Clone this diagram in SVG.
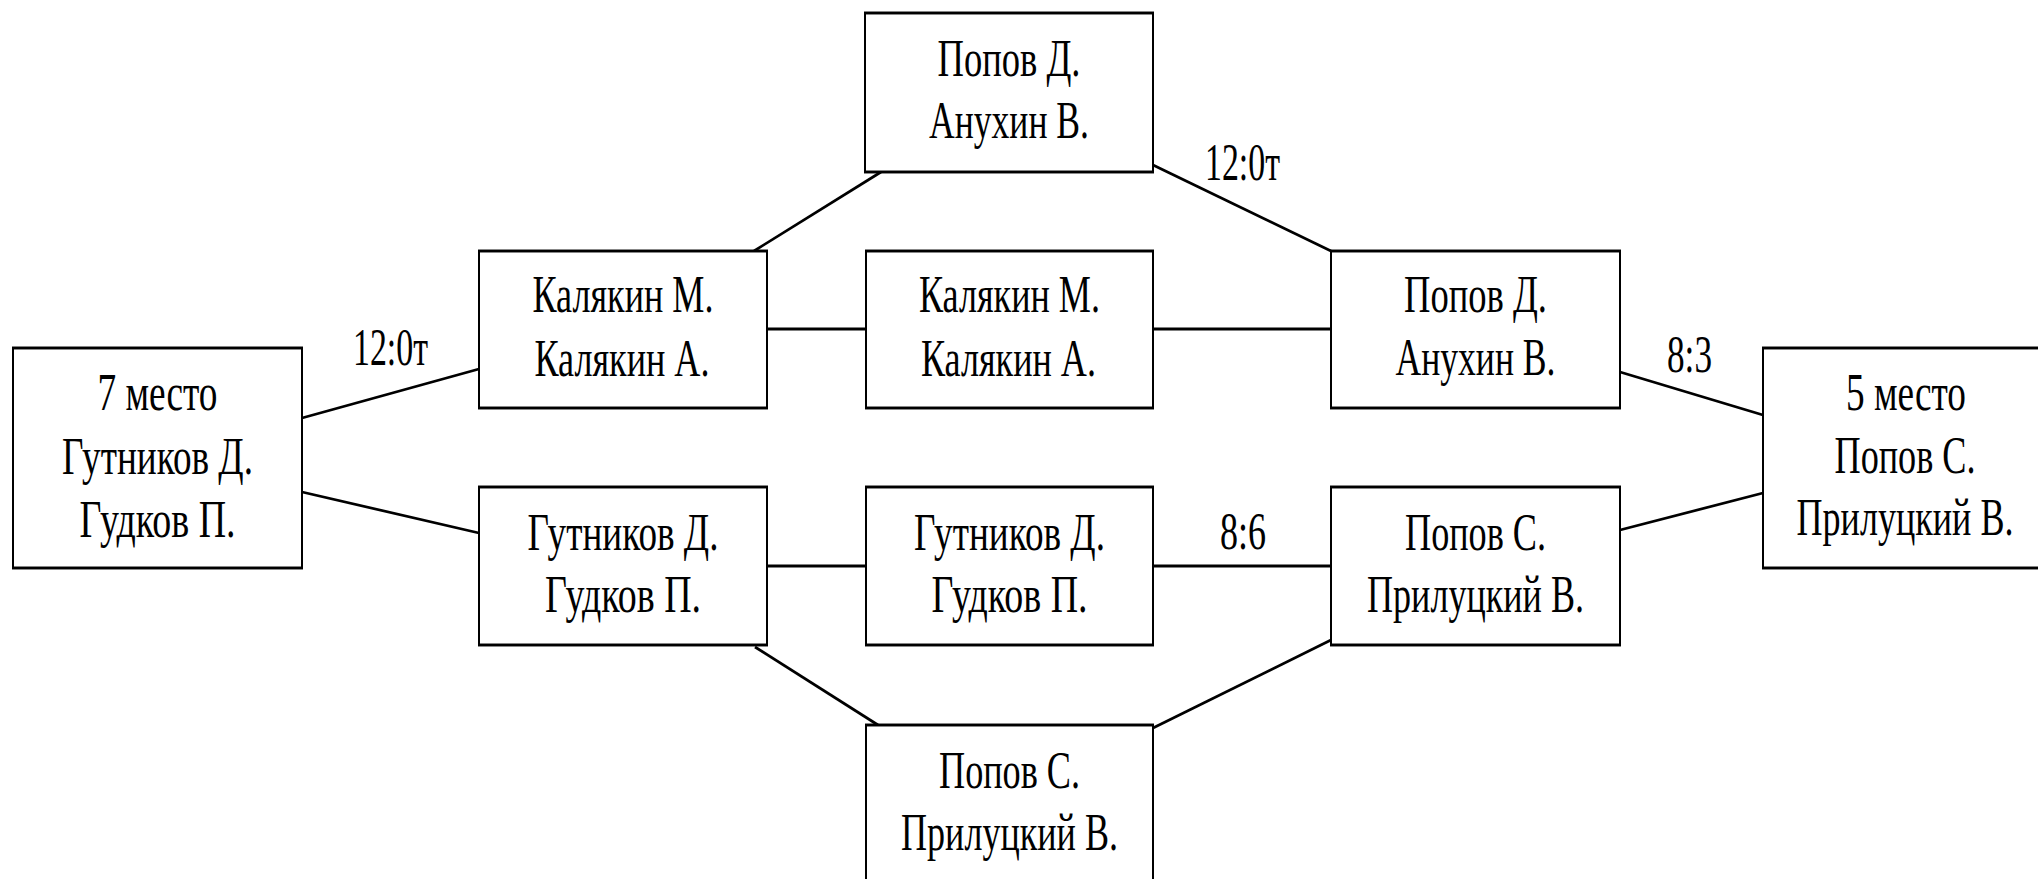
<svg xmlns="http://www.w3.org/2000/svg" width="2038" height="879" viewBox="0 0 2038 879">
<style>
rect{fill:#fff;stroke:#000;stroke-width:2}
line{stroke:#000;stroke-width:2.7}
line.h{stroke-width:3}
text{font-family:"Liberation Serif","Times New Roman",serif;font-size:36px;fill:#000;text-anchor:middle}
</style>
<rect x="0" y="0" width="2038" height="879" style="stroke:none"/>
<g id="connectors">
<line x1="302" y1="418" x2="479" y2="369"/>
<line x1="302" y1="492" x2="479" y2="533"/>
<line x1="754" y1="251" x2="881" y2="172"/>
<line class="h" x1="767" y1="329" x2="866" y2="329"/>
<line x1="1153" y1="165" x2="1331" y2="251"/>
<line class="h" x1="1153" y1="329" x2="1331" y2="329"/>
<line class="h" x1="767" y1="566" x2="866" y2="566"/>
<line x1="755" y1="647" x2="878" y2="725"/>
<line class="h" x1="1153" y1="566" x2="1331" y2="566"/>
<line x1="1153" y1="728" x2="1331" y2="640"/>
<line x1="1620" y1="372" x2="1763" y2="415"/>
<line x1="1620" y1="530" x2="1763" y2="493"/>
<text transform="matrix(1 0 0 1.47 390.5 365)" textLength="75" lengthAdjust="spacingAndGlyphs">12:0т</text>
<text transform="matrix(1 0 0 1.47 1242.5 180)" textLength="75" lengthAdjust="spacingAndGlyphs">12:0т</text>
<text transform="matrix(1 0 0 1.47 1689.5 372)" textLength="45" lengthAdjust="spacingAndGlyphs">8:3</text>
<text transform="matrix(1 0 0 1.47 1243 549)" textLength="46" lengthAdjust="spacingAndGlyphs">8:6</text>
</g>
<g id="n7">
<rect transform="scale(1 1.47)" x="13" y="236.73" width="289" height="149.66"/>
<text transform="matrix(1 0 0 1.47 157.5 410)" textLength="120" lengthAdjust="spacingAndGlyphs">7 место</text>
<text transform="matrix(1 0 0 1.47 157.5 474)" textLength="191" lengthAdjust="spacingAndGlyphs">Гутников Д.</text>
<text transform="matrix(1 0 0 1.47 157.5 537)" textLength="156" lengthAdjust="spacingAndGlyphs">Гудков П.</text>
</g>
<g id="ntop">
<rect transform="scale(1 1.47)" x="865" y="8.84" width="288" height="108.16"/>
<text transform="matrix(1 0 0 1.47 1009 76)" textLength="143" lengthAdjust="spacingAndGlyphs">Попов Д.</text>
<text transform="matrix(1 0 0 1.47 1009 138)" textLength="160" lengthAdjust="spacingAndGlyphs">Анухин В.</text>
</g>
<g id="nA1">
<rect transform="scale(1 1.47)" x="479" y="170.75" width="288" height="106.8"/>
<text transform="matrix(1 0 0 1.47 623 312)" textLength="181" lengthAdjust="spacingAndGlyphs">Калякин М.</text>
<text transform="matrix(1 0 0 1.47 622 376)" textLength="175" lengthAdjust="spacingAndGlyphs">Калякин А.</text>
</g>
<g id="nB1">
<rect transform="scale(1 1.47)" x="866" y="170.75" width="287" height="106.8"/>
<text transform="matrix(1 0 0 1.47 1009.5 312)" textLength="181" lengthAdjust="spacingAndGlyphs">Калякин М.</text>
<text transform="matrix(1 0 0 1.47 1008.5 376)" textLength="175" lengthAdjust="spacingAndGlyphs">Калякин А.</text>
</g>
<g id="nC1">
<rect transform="scale(1 1.47)" x="1331" y="170.75" width="289" height="106.8"/>
<text transform="matrix(1 0 0 1.47 1475.5 312)" textLength="143" lengthAdjust="spacingAndGlyphs">Попов Д.</text>
<text transform="matrix(1 0 0 1.47 1475.5 375)" textLength="160" lengthAdjust="spacingAndGlyphs">Анухин В.</text>
</g>
<g id="nA2">
<rect transform="scale(1 1.47)" x="479" y="331.29" width="288" height="107.48"/>
<text transform="matrix(1 0 0 1.47 623 550)" textLength="191" lengthAdjust="spacingAndGlyphs">Гутников Д.</text>
<text transform="matrix(1 0 0 1.47 623 612)" textLength="156" lengthAdjust="spacingAndGlyphs">Гудков П.</text>
</g>
<g id="nB2">
<rect transform="scale(1 1.47)" x="866" y="331.29" width="287" height="107.48"/>
<text transform="matrix(1 0 0 1.47 1009.5 550)" textLength="191" lengthAdjust="spacingAndGlyphs">Гутников Д.</text>
<text transform="matrix(1 0 0 1.47 1009.5 612)" textLength="156" lengthAdjust="spacingAndGlyphs">Гудков П.</text>
</g>
<g id="nC2">
<rect transform="scale(1 1.47)" x="1331" y="331.29" width="289" height="107.48"/>
<text transform="matrix(1 0 0 1.47 1475.5 550)" textLength="141" lengthAdjust="spacingAndGlyphs">Попов С.</text>
<text transform="matrix(1 0 0 1.47 1475.5 612)" textLength="217" lengthAdjust="spacingAndGlyphs">Прилуцкий В.</text>
</g>
<g id="nbottom">
<rect transform="scale(1 1.47)" x="866" y="493.2" width="287" height="107.48"/>
<text transform="matrix(1 0 0 1.47 1009.5 788)" textLength="141" lengthAdjust="spacingAndGlyphs">Попов С.</text>
<text transform="matrix(1 0 0 1.47 1009.5 850)" textLength="217" lengthAdjust="spacingAndGlyphs">Прилуцкий В.</text>
</g>
<g id="n5">
<rect transform="scale(1 1.47)" x="1763" y="236.73" width="289" height="149.66"/>
<text transform="matrix(1 0 0 1.47 1906 410)" textLength="120" lengthAdjust="spacingAndGlyphs">5 место</text>
<text transform="matrix(1 0 0 1.47 1905 473)" textLength="141" lengthAdjust="spacingAndGlyphs">Попов С.</text>
<text transform="matrix(1 0 0 1.47 1905 535)" textLength="217" lengthAdjust="spacingAndGlyphs">Прилуцкий В.</text>
</g>
</svg>
